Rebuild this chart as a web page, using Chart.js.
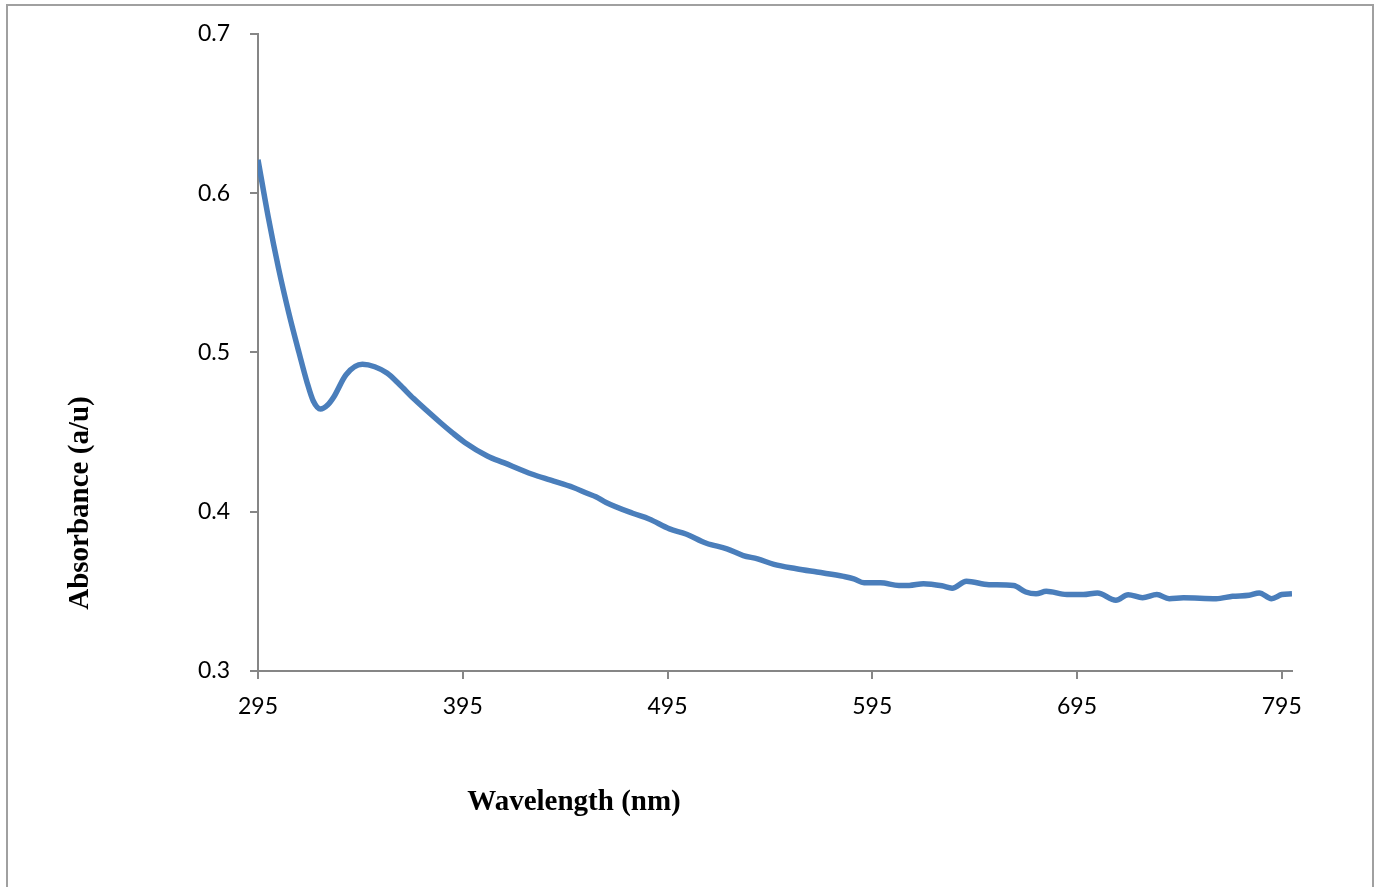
<!DOCTYPE html>
<html>
<head>
<meta charset="utf-8">
<script src="https://cdn.jsdelivr.net/npm/chart.js@4.4.0/dist/chart.umd.min.js"></script>
<style>
    html, body { margin: 0; padding: 0; background: #fff; overflow: hidden; }
    #moldura { position: absolute; left: 6px; top: 4px; width: 1368px; height: 920px; border: 2px solid #a0a0a0; box-sizing: border-box; }
    #area { position: absolute; left: 0; top: 0; width: 1376px; height: 887px; }
</style>
</head>
<body>
<div id="moldura"></div>
<div id="area"><canvas id="graficoAbs"></canvas></div>
<script>
const comprimentos = [295, 300, 305, 310, 315, 319, 322, 325.5, 329, 332, 338, 346, 352, 358, 364, 371, 384,
    390, 396, 407, 415, 429, 438, 449, 456, 460, 465, 478, 486, 496, 504, 514, 524, 532, 539, 547, 558, 568, 581, 586,
    591, 599, 608, 613, 620, 629, 634, 641, 652, 664, 670, 675, 680, 690, 698, 705, 714, 720, 727, 734, 740, 747,
    763, 771, 779, 784, 790, 795, 800];
const absorbancia = [0.621, 0.585, 0.553, 0.525, 0.500, 0.481, 0.4695, 0.4645, 0.467, 0.472, 0.486, 0.4925,
    0.491, 0.487, 0.480, 0.471, 0.456,
    0.4495, 0.4435, 0.435, 0.4308, 0.4235, 0.4198, 0.4152, 0.4114, 0.4094, 0.4058, 0.399, 0.3954, 0.3892, 0.386,
    0.3802, 0.3767, 0.3725, 0.3704, 0.3669, 0.3642, 0.3621, 0.3594, 0.3579,
    0.3554, 0.3554, 0.3537, 0.3537, 0.3548, 0.3535, 0.352, 0.3563, 0.3542, 0.3537, 0.3496, 0.3485, 0.350, 0.348,
    0.348, 0.349, 0.3444, 0.3479, 0.346, 0.348, 0.3454, 0.346, 0.3454, 0.3469, 0.3475, 0.349, 0.3454, 0.348, 0.3485];
const ticksX = [295, 395, 495, 595, 695, 795];
const ticksY = [0.3, 0.4, 0.5, 0.6, 0.7];

const corEixo = '#868686';

// titulos dos eixos desenhados a mao (posicao fora do centro, como no original)
const titulos = {
    id: 'titulos',
    afterDraw(chart) {
        const ctx = chart.ctx;
        ctx.save();
        ctx.fillStyle = '#000';
        ctx.font = 'bold 29px "Liberation Serif", "Times New Roman", serif';
        ctx.textAlign = 'center';
        ctx.textBaseline = 'alphabetic';
        ctx.fillText('Wavelength (nm)', 574, 810);
        ctx.translate(88, 503);
        ctx.rotate(-Math.PI / 2);
        ctx.fillText('Absorbance (a/u)', 0, 0);
        ctx.restore();
    }
};

const pontos = comprimentos.map((x, i) => ({ x: x, y: absorbancia[i] }));

new Chart(document.getElementById('graficoAbs').getContext('2d'), {
    type: 'line',
    data: {
        datasets: [{
            label: 'Absorbance',
            data: pontos,
            borderColor: '#4a7ebb',
            borderWidth: 5.5,
            pointRadius: 0,
            fill: false,
            cubicInterpolationMode: 'monotone'
        }]
    },
    options: {
        responsive: true,
        maintainAspectRatio: false,
        animation: false,
        layout: { padding: { left: 190, right: 84, top: 31, bottom: 156 } },
        plugins: { legend: { display: false }, tooltip: { enabled: false } },
        scales: {
            x: {
                type: 'linear',
                min: 295,
                max: 800,
                afterBuildTicks: s => { s.ticks = ticksX.map(v => ({ value: v })); },
                afterFit: s => { s.height = 60; },
                ticks: { color: '#000', padding: 14, maxRotation: 0, font: { family: 'Lato', size: 23 } },
                grid: { drawOnChartArea: false, tickLength: 8, color: corEixo, lineWidth: 2 },
                border: { color: corEixo, width: 2 }
            },
            y: {
                min: 0.3,
                max: 0.7,
                afterBuildTicks: s => { s.ticks = ticksY.map(v => ({ value: v })); },
                afterFit: s => { s.width = 68; },
                ticks: { color: '#000', padding: 20, callback: v => v.toFixed(1), font: { family: 'Lato', size: 23 } },
                grid: { drawOnChartArea: false, tickLength: 8, color: corEixo, lineWidth: 2 },
                border: { color: corEixo, width: 2 }
            }
        }
    },
    plugins: [titulos]
});
</script>
</body>
</html>
